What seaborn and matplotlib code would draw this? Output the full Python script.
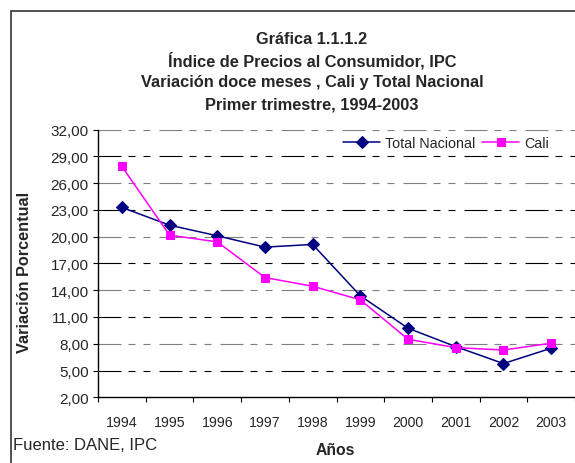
import matplotlib
matplotlib.use("Agg")
import matplotlib.pyplot as plt
import matplotlib.patches as mpatches
from matplotlib.ticker import FixedLocator
import seaborn as sns
import pandas as pd

# ---- data ----
years = ['1994', '1995', '1996', '1997', '1998', '1999', '2000', '2001', '2002', '2003']
total_nacional = [23.28, 21.29, 20.10, 18.83, 19.13, 13.37, 9.74, 7.68, 5.78, 7.50]
cali = [27.88, 20.17, 19.42, 15.42, 14.45, 12.92, 8.50, 7.57, 7.30, 8.06]
y_ticks = [2, 5, 8, 11, 14, 17, 20, 23, 26, 29, 32]

title_lines = ["Gráfica 1.1.1.2",
               "Índice de Precios al Consumidor, IPC",
               "Variación doce meses , Cali y Total Nacional",
               "Primer trimestre, 1994-2003"]

df_tn = pd.DataFrame({"Año": years, "Valor": total_nacional})
df_cali = pd.DataFrame({"Año": years, "Valor": cali})

sns.set_style("white")
plt.rcParams['font.family'] = ['Liberation Sans', 'DejaVu Sans']

W, H = 575, 464
fig = plt.figure(figsize=(W / 100, H / 100), dpi=100)
fig.patch.set_facecolor("white")

left, right, top, bottom = 98, 575, 130.6, 398.3
ax = fig.add_axes([left / W, 1 - bottom / H, (right - left) / W, (bottom - top) / H])
ax.set_facecolor("white")

# gridlines (alternating black / grey dashed)
dash = (0, (20.7, 6.3, 6.3, 7.2, 6.3, 8.1))
for i, v in enumerate(y_ticks[1:]):
    col = "#000000" if (len(y_ticks) - 1 - i) % 2 == 0 else "#7f7f7f"
    ax.axhline(v, color=col, lw=0.8, linestyle=dash, zorder=0)

sns.lineplot(data=df_tn, x="Año", y="Valor", ax=ax, color="#000080", marker="D",
             markersize=6.5, markeredgecolor="#000080", markerfacecolor="#000080",
             linewidth=1.1, label="Total Nacional", sort=False)
sns.lineplot(data=df_cali, x="Año", y="Valor", ax=ax, color="#FF00FF", marker="s",
             markersize=6, markeredgecolor="#FF00FF", markerfacecolor="#FF00FF",
             linewidth=1.1, label="Cali", sort=False)

ax.set_xlim(-0.5, len(years) - 0.5)
ax.set_ylim(y_ticks[0], y_ticks[-1])

ax.set_yticks(y_ticks)
ax.set_yticklabels([f"{v:.2f}".replace(".", ",") for v in y_ticks])
ax.set_xticks(range(len(years)))
ax.set_xticklabels(years)
ax.xaxis.set_minor_locator(FixedLocator([i - 0.5 for i in range(len(years) + 1)]))

ax.tick_params(axis="y", which="major", direction="out", length=3.6, width=0.8,
               color="black", pad=3.2, labelsize=11, left=True)
ax.tick_params(axis="x", which="major", length=0, pad=13, labelsize=10.2, bottom=True)
ax.tick_params(axis="x", which="minor", direction="out", length=3.6, width=0.8,
               color="black", bottom=True)

for s in ["top", "right"]:
    ax.spines[s].set_visible(False)
for s in ["left", "bottom"]:
    ax.spines[s].set_color("black")
    ax.spines[s].set_linewidth(1.0)

ax.set_xlabel("")
ax.set_ylabel("")

leg = ax.legend(loc="center", bbox_to_anchor=(446 / W, 1 - 144 / H),
                bbox_transform=fig.transFigure, ncol=2, frameon=False,
                fontsize=10.3, handlelength=2.6, handletextpad=0.35,
                columnspacing=0.45, borderaxespad=0, borderpad=0)

# titles
for txt, yc in zip(title_lines, [39, 61, 83, 105]):
    fig.text(312 / W, 1 - yc / H, txt, ha="center", va="center",
             fontsize=11.8, fontweight="bold")

fig.text(25 / W, 1 - 272 / H, "Variación Porcentual", rotation=90,
         ha="center", va="center", fontsize=11.7, fontweight="bold")
fig.text(335 / W, 1 - 455 / H, "Años", ha="center", va="baseline",
         fontsize=11.3, fontweight="bold")
fig.text(13 / W, 1 - 450 / H, "Fuente: DANE, IPC", ha="left", va="baseline",
         fontsize=12)

# chart border
border = mpatches.Rectangle((10.5 / W, -0.2), 1.5, (1 - 12 / H) + 0.2,
                            transform=fig.transFigure, fill=False,
                            edgecolor="#333333", linewidth=1.2, clip_on=False)
fig.add_artist(border)

fig.savefig("out.png", dpi=100)
